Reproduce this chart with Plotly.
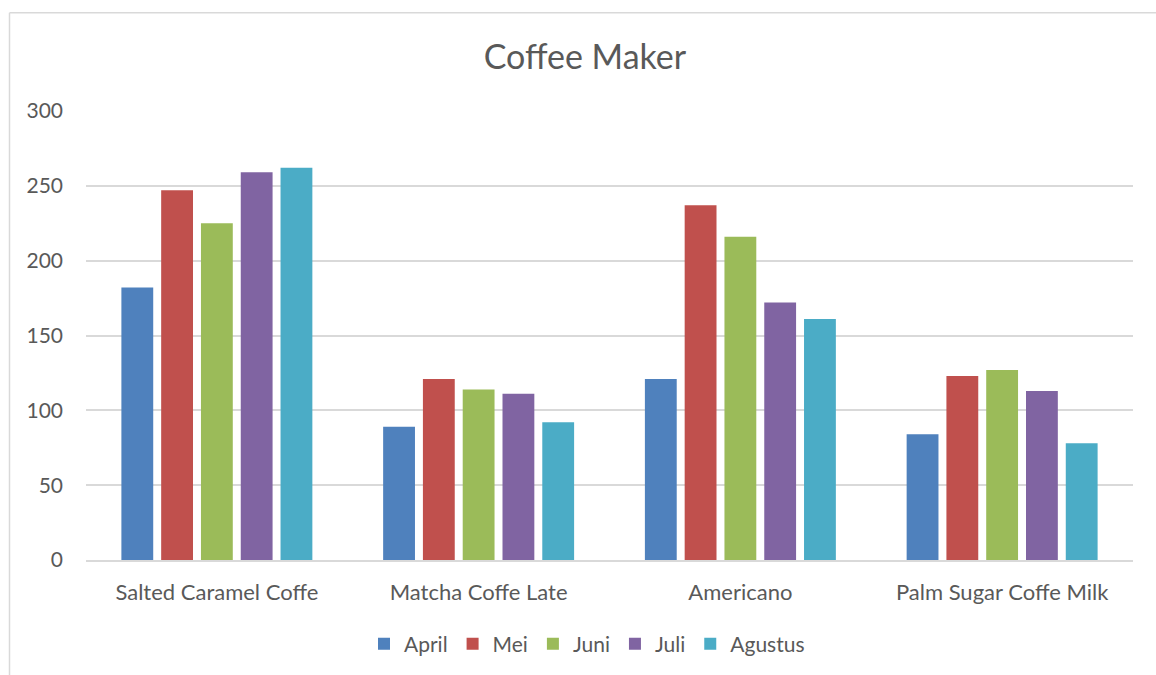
import plotly.graph_objects as go

categories = ["Salted Caramel Coffe", "Matcha Coffe Late", "Americano", "Palm Sugar Coffe Milk"]
april = [182, 89, 121, 84]
mei = [247, 121, 237, 123]
juni = [225, 114, 216, 127]
juli = [259, 111, 172, 113]
agustus = [262, 92, 161, 78]

series = [
    ("April", april, "#4f81bd"),
    ("Mei", mei, "#c0504d"),
    ("Juni", juni, "#9bbb59"),
    ("Juli", juli, "#8064a2"),
    ("Agustus", agustus, "#4bacc6"),
]

FONT = "Lato"
TXT = "#595959"
GRID = "#d9d9d9"

fig = go.Figure()
for name, vals, col in series:
    fig.add_trace(go.Bar(x=categories, y=vals, name=name,
                         marker=dict(color=col, line=dict(width=0))))

W, H = 1156, 675
L, R, T, B = 86, 23, 111, 114

fig.update_layout(
    width=W, height=H,
    margin=dict(l=L, r=R, t=T, b=B),
    paper_bgcolor="white", plot_bgcolor="white",
    barmode="group", bargap=0.24, bargroupgap=0.2,
    font=dict(family=FONT, color=TXT, size=21),
    title=dict(text="Coffee Maker", x=0.506, xanchor="center",
               y=1 - 57 / H, yanchor="middle", yref="container",
               font=dict(size=34, color=TXT, family=FONT)),
    legend=dict(orientation="h", x=(587 - L) / (W - L - R), xanchor="center",
                y=-(644 - (H - B)) / (H - T - B), yanchor="middle",
                font=dict(size=21, color=TXT), itemwidth=30,
                traceorder="normal"),
    showlegend=True,
    shapes=[
        dict(type="line", xref="paper", yref="paper",
             x0=-(L - 9.5) / (W - L - R), x1=(W - L) / (W - L - R) + 0.01,
             y0=(H - 12.5 - B) / (H - T - B), y1=(H - 12.5 - B) / (H - T - B),
             line=dict(color="#d9d9d9", width=1.5)),
        dict(type="line", xref="paper", yref="paper",
             x0=-(L - 9.5) / (W - L - R), x1=-(L - 9.5) / (W - L - R),
             y0=(H - 12.5 - B) / (H - T - B), y1=-B / (H - T - B) - 0.01,
             line=dict(color="#d9d9d9", width=1.5)),
    ],
)
fig.update_xaxes(showgrid=False, showline=True, linecolor=GRID, linewidth=1.5,
                 ticks="", tickfont=dict(size=22, color=TXT), ticklabelstandoff=12)
fig.update_yaxes(range=[0, 300], dtick=50, showgrid=True, gridcolor=GRID, gridwidth=1.5,
                 zeroline=False, showline=False, ticks="",
                 tickfont=dict(size=21, color=TXT), ticklabelstandoff=22)

fig.write_html("out.html")
